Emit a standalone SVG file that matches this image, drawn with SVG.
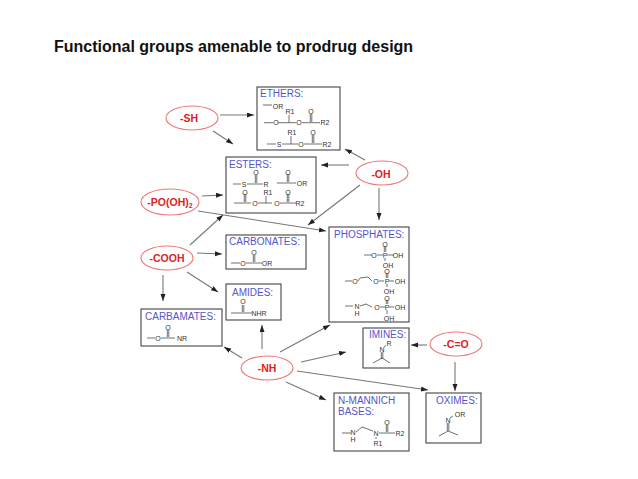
<svg xmlns="http://www.w3.org/2000/svg" width="638" height="479" viewBox="0 0 638 479">
<style>
.t{font:bold 16px "Liberation Sans",Arial,sans-serif;fill:#111}
.box{fill:none;stroke:#444;stroke-width:1.1}
.el{fill:#fff;stroke:#e77;stroke-width:1.1}
.r{font:bold 10.5px "Liberation Sans",Arial,sans-serif;fill:#d22;text-anchor:middle}
.l{font:10px "Liberation Sans",Arial,sans-serif;fill:#55c}
.a{font:7px "Liberation Sans",Arial,sans-serif;fill:#333;text-anchor:middle}
.b{fill:none;stroke:#333;stroke-width:.7}
.c{fill:none;stroke:#777;stroke-width:1.1;marker-end:url(#ah)}
</style>
<defs>
<marker id="ah" markerUnits="userSpaceOnUse" markerWidth="8" markerHeight="6" refX="7" refY="2.5" orient="auto"><path d="M0 0L7 2.500L0 5z" fill="#222"/></marker>
</defs>
<rect width="638" height="479" fill="#fff"/>
<text class="t" x="54" y="52">Functional groups amenable to prodrug design</text>
<g id="connectors">
<path class="c" d="M220 115L254 115"/>
<path class="c" d="M213 131L233 144"/>
<path class="c" d="M365 160L345 149"/>
<path class="c" d="M349 165L321 165"/>
<path class="c" d="M360 185L308 225"/>
<path class="c" d="M379 188L379 220"/>
<path class="c" d="M202 196L223 195"/>
<path class="c" d="M198 211L326 231"/>
<path class="c" d="M190 245L223 215"/>
<path class="c" d="M197 253L222 254"/>
<path class="c" d="M187 272L218 292"/>
<path class="c" d="M163 275L163 301"/>
<path class="c" d="M262 349L262 325"/>
<path class="c" d="M242 358L224 347"/>
<path class="c" d="M280 352L330 325"/>
<path class="c" d="M301 362L346 352"/>
<path class="c" d="M297 371L428 390"/>
<path class="c" d="M286 382L326 400"/>
<path class="c" d="M427 345L411 345"/>
<path class="c" d="M455 362L455 391"/>
</g>
<g id="sh"><ellipse class="el" cx="192" cy="118" rx="26" ry="12"/><text class="r" x="189" y="122">-SH</text></g>
<g id="po"><ellipse class="el" cx="170" cy="202" rx="29" ry="13"/><text class="r" x="170" y="206">-PO(OH)<tspan font-size="7" dy="2">2</tspan></text></g>
<g id="oh"><ellipse class="el" cx="382" cy="173" rx="26" ry="12"/><text class="r" x="381" y="178">-OH</text></g>
<g id="cooh"><ellipse class="el" cx="167" cy="258" rx="26" ry="12"/><text class="r" x="167" y="262">-COOH</text></g>
<g id="nh"><ellipse class="el" cx="267" cy="368" rx="26" ry="12"/><text class="r" x="267" y="372">-NH</text></g>
<g id="co"><ellipse class="el" cx="456" cy="344" rx="26" ry="12"/><text class="r" x="456" y="348">-C=O</text></g>
<g id="ethers"><rect class="box" x="257" y="87" width="83" height="63"/><text class="l" x="260" y="97">ETHERS:</text>
<path class="b" d="M263 105H272M264 122.700H273M278 122.700H296M289 122.700V115M302 122.700H320M310.300 114V122M311.800 114V122M267 144H276M282 144H298M291 144V136M304 144H322M312.300 135V143M313.800 135V143"/>
<text class="a"><tspan x="278" y="109">OR</tspan><tspan x="276" y="125">O</tspan><tspan x="290" y="114">R1</tspan><tspan x="299" y="125">O</tspan><tspan x="311" y="114">O</tspan><tspan x="325" y="125">R2</tspan><tspan x="279" y="147">S</tspan><tspan x="292" y="135">R1</tspan><tspan x="301" y="147">O</tspan><tspan x="313" y="135">O</tspan><tspan x="327" y="147">R2</tspan></text></g>
<g id="esters"><rect class="box" x="226" y="157" width="90" height="56"/><text class="l" x="229" y="168">ESTERS:</text>
<path class="b" d="M233 184H241M247 184H256L263 184M255.300 175V183M256.800 175V183M277 183H296M287.300 174V182M288.800 174V182M234 203H251M244.300 194V202M245.800 194V202M258 203H272M266 203V196M280 203H296M287.300 194V202M288.800 194V202"/>
<text class="a"><tspan x="244" y="187">S</tspan><tspan x="256" y="175">O</tspan><tspan x="266" y="187">R</tspan><tspan x="288" y="175">O</tspan><tspan x="302" y="186">OR</tspan><tspan x="245" y="195">O</tspan><tspan x="255" y="206">O</tspan><tspan x="268" y="195">R1</tspan><tspan x="277" y="206">O</tspan><tspan x="288" y="195">O</tspan><tspan x="300" y="206">R2</tspan></text></g>
<g id="phosphates"><rect class="box" x="329" y="227" width="80" height="95"/><text class="l" x="334" y="238">PHOSPHATES:</text>
<path class="b" d="M364 255H372M377 255H383M387 255H394M384.300 246V252M385.800 246V252M385 258V261M345 281H352M358 281L360 278L368 277L372 281M379 281H384M389 281H394M386.300 273V278M387.800 273V278M387 284V287M345 306H353M360 306L366 304L372 307M380 307H385M389 307H394M386.300 300V304M387.800 300V304M387 310V314"/>
<text class="a"><tspan x="374" y="258">O</tspan><tspan x="385" y="258">P</tspan><tspan x="385" y="247">O</tspan><tspan x="398" y="258">OH</tspan><tspan x="388" y="268">OH</tspan><tspan x="355" y="284">O</tspan><tspan x="376" y="284">O</tspan><tspan x="387" y="284">P</tspan><tspan x="387" y="274">O</tspan><tspan x="400" y="284">OH</tspan><tspan x="389" y="294">OH</tspan><tspan x="357" y="309">N</tspan><tspan x="357" y="316">H</tspan><tspan x="377" y="310">O</tspan><tspan x="387" y="310">P</tspan><tspan x="387" y="301">O</tspan><tspan x="400" y="310">OH</tspan><tspan x="389" y="321">OH</tspan></text></g>
<g id="carbonates"><rect class="box" x="226" y="235" width="80" height="34"/><text class="l" x="229" y="245">CARBONATES:</text>
<path class="b" d="M231 263H240M246 263H262M253.300 255V262M254.800 255V262"/>
<text class="a"><tspan x="243" y="266">O</tspan><tspan x="254" y="255">O</tspan><tspan x="267" y="266">OR</tspan></text></g>
<g id="amides"><rect class="box" x="226" y="284" width="55" height="36"/><text class="l" x="232" y="296">AMIDES:</text>
<path class="b" d="M231 313H252M242.300 305V312M243.800 305V312"/>
<text class="a"><tspan x="243" y="304">O</tspan><tspan x="259" y="316">NHR</tspan></text></g>
<g id="carbamates"><rect class="box" x="141" y="309" width="81" height="37"/><text class="l" x="145" y="320">CARBAMATES:</text>
<path class="b" d="M147 338H155M161 338H175M167.300 330V337M168.800 330V337"/>
<text class="a"><tspan x="158" y="341">O</tspan><tspan x="168" y="330">O</tspan><tspan x="182" y="341">NR</tspan></text></g>
<g id="imines"><rect class="box" x="363" y="328" width="46" height="40"/><text class="l" x="369" y="338">IMINES:</text>
<path class="b" d="M384 347L386 345.500M381.300 352V359M382.800 352V359M373 363L382 358L390 363"/>
<text class="a"><tspan x="382" y="352">N</tspan><tspan x="389" y="346">R</tspan></text></g>
<g id="oximes"><rect class="box" x="426" y="393" width="55" height="50"/><text class="l" x="436" y="404">OXIMES:</text>
<path class="b" d="M450 418L453 416M447.300 423V431M448.800 423V431M439 436L448 431L458 435"/>
<text class="a"><tspan x="448" y="423">N</tspan><tspan x="460" y="417">OR</tspan></text></g>
<g id="mannich"><rect class="box" x="334" y="393" width="75" height="58"/><text class="l"><tspan x="338" y="404">N-MANNICH</tspan><tspan x="338" y="415">BASES:</tspan></text>
<path class="b" d="M342 433H351M356 432L362 427L373 431M379 433H395M386.300 425V432M387.800 425V432M376 437V439"/>
<text class="a"><tspan x="353" y="435">N</tspan><tspan x="353" y="442">H</tspan><tspan x="376" y="436">N</tspan><tspan x="378" y="446">R1</tspan><tspan x="387" y="425">O</tspan><tspan x="400" y="436">R2</tspan></text></g>
</svg>
